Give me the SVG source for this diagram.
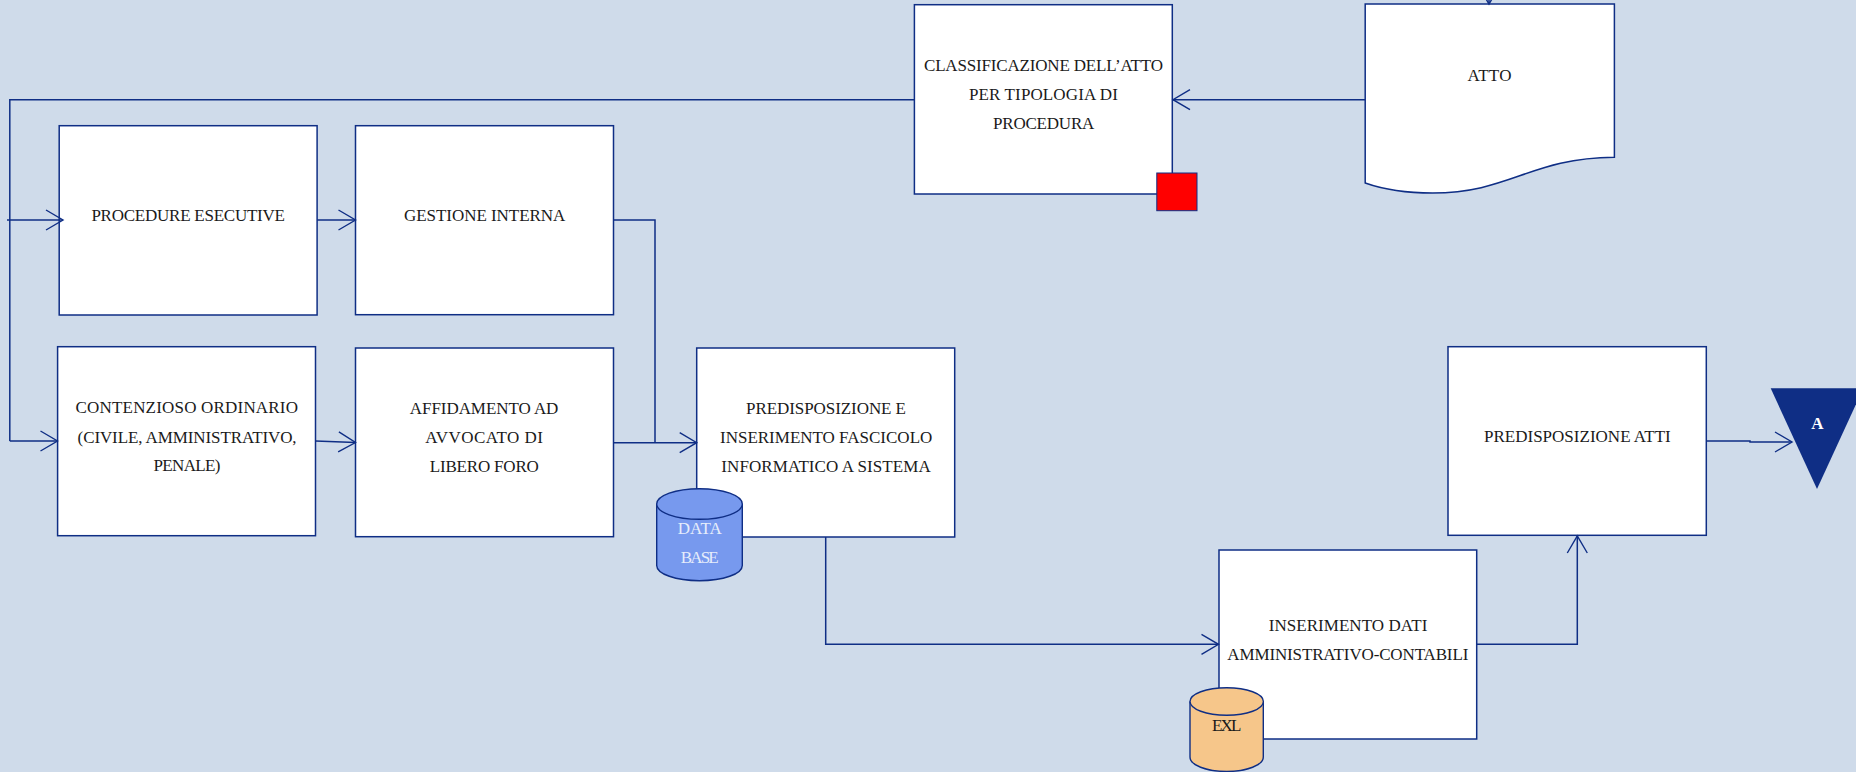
<svg xmlns="http://www.w3.org/2000/svg" width="1856" height="772" viewBox="0 0 1856 772">
<style>
.box{fill:#fff;stroke:#0f2e85;stroke-width:1.5}
.conn{fill:none;stroke:#0f2e85;stroke-width:1.5;marker-end:url(#open)}
.plain{fill:none;stroke:#0f2e85;stroke-width:1.5}
text{font-family:"Liberation Serif","Times New Roman",serif;font-size:17px;fill:#1a1a1a}
</style>
<defs>
<marker id="open" markerUnits="userSpaceOnUse" markerWidth="22" markerHeight="24" refX="18" refY="12" orient="auto" overflow="visible">
<path d="M1,2 L18,12 L1,22" fill="none" stroke="#0f2e85" stroke-width="1.4"/>
</marker>
</defs>
<rect width="1856" height="772" fill="#cfdbea"/>

<g id="node-classificazione">
<rect class="box" x="914.4" y="4.7" width="257.9" height="189.3"/>
<text x="924" y="70.7" textLength="239">CLASSIFICAZIONE DELL’ATTO</text>
<text x="969" y="100" textLength="148.8">PER TIPOLOGIA DI</text>
<text x="993" y="129" textLength="101.3">PROCEDURA</text>
</g>
<g id="node-red-marker"><rect x="1156.8" y="173" width="40.2" height="37.7" fill="#ff0000" stroke="#0f2e85" stroke-width="1"/></g>

<g id="node-atto">
<path class="box" d="M1365.2,4 H1614.4 V157.3 C1530,158 1510,193 1432.6,193 C1405,193 1385,190 1365.2,183 Z"/>
<text x="1467.5" y="81" textLength="44">ATTO</text>
</g>

<g id="node-procedure">
<rect class="box" x="59.2" y="125.7" width="257.9" height="189.3"/>
<text x="91.4" y="221" textLength="193.5">PROCEDURE ESECUTIVE</text>
</g>
<g id="node-gestione">
<rect class="box" x="355.5" y="125.7" width="258" height="189"/>
<text x="404" y="221" textLength="161.3">GESTIONE INTERNA</text>
</g>
<g id="node-contenzioso">
<rect class="box" x="57.6" y="346.7" width="257.9" height="189"/>
<text x="75.5" y="413" textLength="222.5">CONTENZIOSO ORDINARIO</text>
<text x="77.6" y="442.7" textLength="219">(CIVILE, AMMINISTRATIVO,</text>
<text x="153.5" y="471.3" textLength="67">PENALE)</text>
</g>
<g id="node-affidamento">
<rect class="box" x="355.5" y="348" width="258" height="188.7"/>
<text x="409.8" y="413.7" textLength="148.6">AFFIDAMENTO AD</text>
<text x="425.3" y="442.7" textLength="117.6">AVVOCATO DI</text>
<text x="429.8" y="472.3" textLength="109">LIBERO FORO</text>
</g>
<g id="node-predisposizione">
<rect class="box" x="696.7" y="348" width="258" height="189"/>
<text x="746" y="413.7" textLength="160">PREDISPOSIZIONE E</text>
<text x="720" y="443" textLength="212.3">INSERIMENTO FASCICOLO</text>
<text x="721.3" y="472" textLength="209.4">INFORMATICO A SISTEMA</text>
</g>
<g id="node-inserimento">
<rect class="box" x="1219" y="550" width="257.7" height="189"/>
<text x="1268.7" y="631" textLength="158.6">INSERIMENTO DATI</text>
<text x="1227.3" y="660" textLength="241">AMMINISTRATIVO-CONTABILI</text>
</g>
<g id="node-atti">
<rect class="box" x="1448" y="346.7" width="258.3" height="188.6"/>
<text x="1484" y="441.5" textLength="186.7">PREDISPOSIZIONE ATTI</text>
</g>

<g id="connectors">
<path class="plain" d="M914.4,99.7 H9.8 V441"/>
<path class="conn" d="M9.8,441 H57.5"/>
<path class="conn" d="M1365.2,99.7 H1173"/>
<path class="conn" d="M7,220 H63"/>
<path class="conn" d="M317.1,220 H355.5"/>
<path class="plain" d="M613.5,220 H655 V442.7"/>
<path class="conn" d="M315.5,441 L355.5,442.5"/>
<path class="conn" d="M613.5,442.7 H696.7"/>
<path class="conn" d="M825.7,537 V644.3 H1218.5"/>
<path class="conn" d="M1476.7,644.3 H1577.3 V536"/>
<path class="conn" d="M1706.3,441 H1750 V442 H1792"/>
<path class="conn" d="M1489,-30 V4"/>
</g>

<g id="node-database">
<path d="M656.7,504 V565.4 C656.7,574 676,580.7 699.5,580.7 C723,580.7 742.3,574 742.3,565.4 V504" fill="#7799ee" stroke="#0f2e85" stroke-width="1.4"/>
<ellipse cx="699.5" cy="504" rx="42.8" ry="15.3" fill="#7799ee" stroke="#0f2e85" stroke-width="1.4"/>
<text x="677.7" y="534" textLength="44" style="fill:#e6edfb">DATA</text>
<text x="680.7" y="563" textLength="38" style="fill:#e6edfb">BASE</text>
</g>
<g id="node-exl">
<path d="M1190,701.5 V757 C1190,765 1206,771.5 1226.7,771.5 C1247,771.5 1263.3,765 1263.3,757 V701.5" fill="#f6c68a" stroke="#0f2e85" stroke-width="1.4"/>
<ellipse cx="1226.7" cy="701.5" rx="36.7" ry="13.8" fill="#f6c68a" stroke="#0f2e85" stroke-width="1.4"/>
<text x="1212" y="731" textLength="29.3">EXL</text>
</g>
<g id="node-a">
<path d="M1770.7,388.3 H1863.3 L1817,489 Z" fill="#0f2e85"/>
<text x="1811.3" y="429" textLength="12" style="fill:#fff;font-weight:bold">A</text>
</g>
</svg>
